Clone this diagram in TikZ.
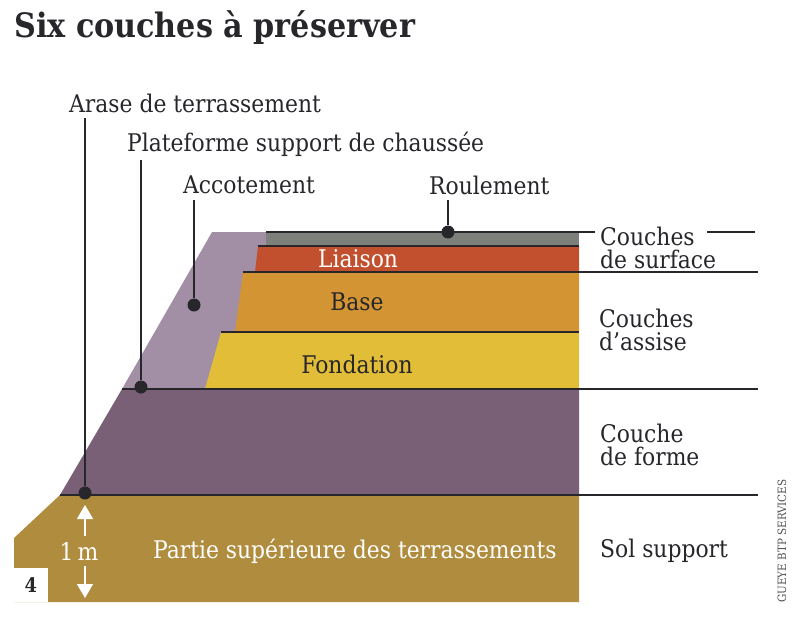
\documentclass[tikz,border=0pt]{standalone}
\usepackage{fontspec}
\setmainfont{DejaVu Serif Condensed}
\usetikzlibrary{arrows.meta}
\definecolor{solcol}{HTML}{B08D3E}
\definecolor{formecol}{HTML}{7A6076}
\definecolor{accocol}{HTML}{A28FA6}
\definecolor{roulcol}{HTML}{7E817B}
\definecolor{liaisoncol}{HTML}{C2502F}
\definecolor{basecol}{HTML}{D39433}
\definecolor{fondcol}{HTML}{E2BD37}
\definecolor{inkcol}{HTML}{26262B}
\tikzset{
    label/.style = {
        anchor=west,
        inner sep=0pt,
        text=inkcol,
        font=\fontsize{24.3}{24}\selectfont,
        },
    side/.style = {
        label,
        align=left,
        font=\fontsize{24.3}{23}\selectfont,
        },
    inside/.style = {
        inner sep=0pt,
        text=inkcol,
        font=\fontsize{24.3}{24}\selectfont,
        },
    dot/.style = {
        circle,
        fill=inkcol,
        inner sep=0pt,
        minimum size=13,
        },
    rule/.style = {
        draw=inkcol,
        line width=1.2,
        },
    leader/.style = {
        draw=inkcol,
        line width=1.4,
        },
    whitearrow/.style = {
        draw=white,
        line width=1.4,
        -{Triangle[length=14,width=16]},
        }
}
\begin{document}
\begin{tikzpicture}[x=1pt,y=-1pt]
    \useasboundingbox (0,0) rectangle (800,634);

    % layers
    \fill[solcol] (14,538) -- (60,495) -- (579,495) -- (579,602) -- (14,602) -- cycle;
    \fill[formecol] (60,495) -- (122,389) -- (579,389) -- (579,495) -- cycle;
    \fill[accocol] (122,389) -- (212,232) -- (300,232) -- (300,389) -- cycle;
    \fill[roulcol] (266,232) -- (579,232) -- (579,246) -- (266,246) -- cycle;
    \fill[liaisoncol] (258,246) -- (579,246) -- (579,272) -- (255,272) -- cycle;
    \fill[basecol] (243,272) -- (579,272) -- (579,332) -- (235,332) -- cycle;
    \fill[fondcol] (221,332) -- (579,332) -- (579,389) -- (205,389) -- cycle;

    % rules
    \coordinate (top) at (266,232);
    \coordinate (topend) at (595,232);
    \coordinate (topb) at (707,232);
    \coordinate (topc) at (755,232);
    \draw[rule] (top) -- (topend);
    \draw[rule] (topb) -- (topc);
    \draw[rule] (258,246) -- (579,246);
    \draw[rule] (243,272) -- (758,272);
    \draw[rule] (221,332) -- (579,332);
    \draw[rule] (122,389) -- (758,389);
    \draw[rule] (60,495) -- (758,495);

    \node[label, font=\bfseries\fontsize{33.6}{34}\selectfont] (title) at (14,28) {Six couches à préserver};

    \node[label] (arase) at (69,103) {Arase de terrassement};
    \node[label] (plateforme) at (127,144) {Plateforme support de chaussée};
    \node[label] (accotement) at (183,185) {Accotement};
    \node[label] (roulement) at (429,185) {Roulement};

    \node[dot] (d1) at (85,493) {};
    \node[dot] (d2) at (141,387) {};
    \node[dot] (d3) at (194,305) {};
    \node[dot] (d4) at (448,232) {};

    \draw[leader] (d1) -- (d1 |- 0,118);
    \draw[leader] (d2) -- (d2 |- 0,160);
    \draw[leader] (d3) -- (d3 |- 0,200);
    \draw[leader] (d4) -- (d4 |- 0,200);

    \node[inside, text=white] (liaison) at (358,259) {Liaison};
    \node[inside] (base) at (357,302) {Base};
    \node[inside] (fondation) at (357,364) {Fondation};
    \node[inside, text=white] (partie) at (355,551) {Partie supérieure des terrassements};

    \node[side] (surface) at (600,248) {Couches\\de surface};
    \node[side] (assise) at (599,330) {Couches\\d’assise};
    \node[side] (forme) at (600,445) {Couche\\de forme};
    \node[side] (sol) at (600,551) {Sol support};

    \node[inside, text=white] (metre) at (79,551) {1\,m};
    \coordinate (up) at (85,505);
    \coordinate (down) at (85,598);
    \draw[whitearrow] (85,536) -- (up);
    \draw[whitearrow] (85,566) -- (down);

    \node[fill=white, minimum size=34, inner sep=0pt, font=\bfseries\fontsize{20}{20}\selectfont, text=inkcol] (num) at (31,585) {4};
    \node[rotate=90, inner sep=0pt, text=inkcol!80, font=\fontsize{11.5}{11.5}\selectfont] (credit) at (782,541) {GUEYE BTP SERVICES};
\end{tikzpicture}
\end{document}
